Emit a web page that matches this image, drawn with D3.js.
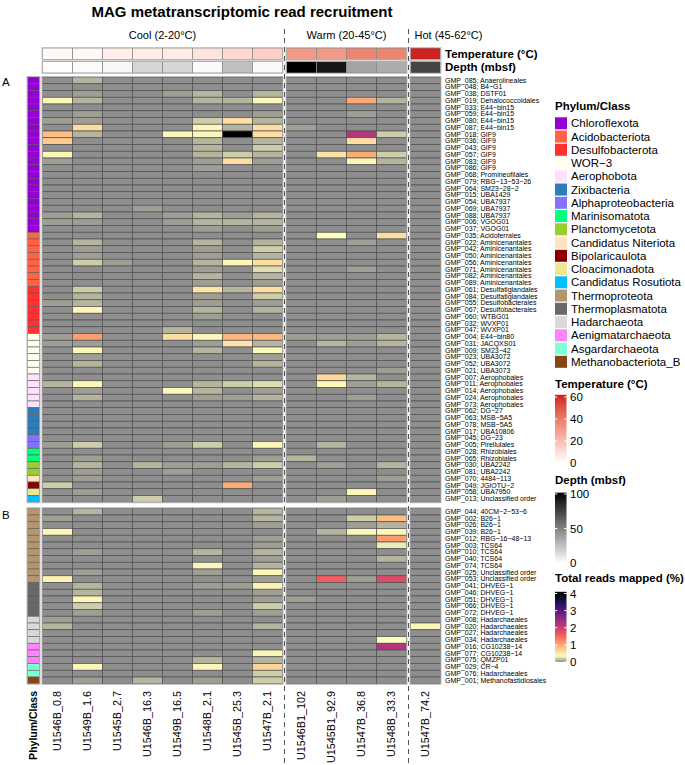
<!DOCTYPE html>
<html><head><meta charset="utf-8">
<script src="https://cdn.jsdelivr.net/npm/d3@7"></script>
<style>body{margin:0;background:#fff} text{font-family:"Liberation Sans",Arial,Helvetica,sans-serif;fill:#000}</style>
</head><body><svg id="c" width="685" height="765"></svg>
<script>
// ---------------- DATA ----------------
const groups = ["Cool (2-20°C)", "Warm (20-45°C)", "Hot (45-62°C)"];
const samples = ["U1546B_0.8","U1549B_1.6","U1545B_2.7","U1546B_16.3","U1549B_16.5","U1548B_2.1","U1545B_25.3","U1547B_2.1",
                 "U1546B1_102","U1545B1_92.9","U1547B_36.8","U1548B_33.3","U1547B_74.2"];
const sampleGroup = [0,0,0,0,0,0,0,0,1,1,1,1,2];
const temperature = [2,2.5,5,6,6,8.5,11.5,14.5,31,31,37,37,61];
const depth = [0.8,1.6,2.7,16.3,16.5,2.1,25.3,2.1,102,92.9,36.8,33.3,74.2];

const phyla = ["Chloroflexota","Acidobacteriota","Desulfobacterota","WOR\u22123","Aerophobota","Zixibacteria",
  "Alphaproteobacteria","Marinisomatota","Planctomycetota","Candidatus Niteriota","Bipolaricaulota",
  "Cloacimonadota","Candidatus Rosutiota","Thermoproteota","Thermoplasmatota","Hadarchaeota",
  "Aenigmatarchaeota","Asgardarchaeota","Methanobacteriota_B"];
const phylaColors = ["#9400D3","#FF6347","#FF3030","#FFFFF0","#FFE1FF","#2C7DB8","#8470FF","#00FF7F","#9ACD32",
  "#FFE4C4","#8B0000","#F0E68C","#00BFFF","#B5956E","#696969","#D9D9D9","#FF83FA","#7FFFD4","#8B4513"];

const rowsA = ["GMP_085; Anaerolineales","GMP_048; B4\u2212G1","GMP_038; DSTF01","GMP_019; Dehalococcoidales",
 "GMP_033; E44\u2212bin15","GMP_059; E44\u2212bin15","GMP_080; E44\u2212bin15","GMP_087; E44\u2212bin15",
 "GMP_018; GIF9","GMP_036; GIF9","GMP_043; GIF9","GMP_057; GIF9","GMP_083; GIF9","GMP_086; GIF9",
 "GMP_068; Promineofilales","GMP_079; RBG\u221213\u221253\u221226","GMP_064; SM23\u221228\u22122","GMP_015; UBA1429",
 "GMP_054; UBA7937","GMP_069; UBA7937","GMP_088; UBA7937","GMP_006; VGOG01","GMP_037; VGOG01",
 "GMP_035; Acidoferrales","GMP_022; Aminicenantales","GMP_042; Aminicenantales","GMP_050; Aminicenantales",
 "GMP_056; Aminicenantales","GMP_071; Aminicenantales","GMP_082; Aminicenantales","GMP_089; Aminicenantales",
 "GMP_061; Desulfatiglandales","GMP_084; Desulfatiglandales","GMP_055; Desulfobacterales","GMP_067; Desulfobacterales",
 "GMP_060; WTBG01","GMP_032; WVXP01","GMP_047; WVXP01","GMP_004; E44\u2212bin80","GMP_031; JACQXS01",
 "GMP_009; SM23\u221242","GMP_023; UBA3072","GMP_052; UBA3072","GMP_021; UBA3073","GMP_007; Aerophobales",
 "GMP_011; Aerophobales","GMP_014; Aerophobales","GMP_024; Aerophobales","GMP_073; Aerophobales",
 "GMP_062; DG\u221227","GMP_063; MSB\u22125A5","GMP_078; MSB\u22125A5","GMP_017; UBA10806","GMP_045; DG\u221223",
 "GMP_005; Pirellulales","GMP_028; Rhizobiales","GMP_065; Rhizobiales","GMP_030; UBA2242","GMP_081; UBA2242",
 "GMP_070; 4484\u2212113","GMP_049; JGIOTU\u22122","GMP_058; UBA7950","GMP_013; Unclassified order"];
const phylumA = [0,0,0,0,0,0,0,0,0,0,0,0,0,0,0,0,0,0,0,0,0,0,0, 1,1,1,1,1,1,1,1, 2,2,2,2,2,2,2,
  3,3,3,3,3,3, 4,4,4,4,4, 5,5,5,5, 6,6, 7,7, 8,8, 9, 10, 11, 12];
const valuesA = [
 [0,0.12,0,0,0,0,0,0, 0,0,0,0, 0],
 [0,0,0,0,0,0,0,0, 0,0,0,0, 0],
 [0,0.05,0,0,0.05,0.12,0,0.12, 0,0,0,0, 0],
 [0.4,0.12,0,0,0,0.12,0.12,0.4, 0,0,1.0,0.12, 0],
 [0,0,0,0,0,0,0,0, 0,0,0,0, 0],
 [0,0.05,0,0,0,0,0,0.05, 0,0,0.05,0, 0],
 [0.05,0.05,0,0,0,0.2,0.6,0.12, 0,0,0,0, 0],
 [0,0.6,0,0,0,0.4,0.12,0.6, 0.05,0,0,0, 0],
 [0.85,0.12,0,0,0.4,0.4,4,0.6, 0,0,2.2,0.2, 0],
 [0.75,0,0,0,0,0.12,0,0.12, 0,0,0.6,0, 0],
 [0,0,0,0,0,0.12,0,0.2, 0,0,0,0, 0],
 [0.4,0,0,0,0,0.12,0.2,0.12, 0,0.55,1.0,0.2, 0],
 [0.05,0,0,0,0,0.05,0.6,0.05, 0,0,0.4,0.12, 0],
 [0,0,0,0,0,0.05,0,0, 0,0,0,0, 0],
 [0,0,0,0,0,0,0,0, 0,0,0,0, 0],
 [0,0,0,0,0,0,0,0, 0,0,0,0, 0],
 [0,0,0,0,0,0,0,0, 0,0,0,0, 0],
 [0,0,0,0,0,0,0,0, 0,0,0,0, 0],
 [0,0,0,0,0,0,0,0, 0,0,0,0, 0],
 [0,0,0,0.05,0,0,0,0, 0,0,0,0, 0],
 [0.05,0.12,0,0,0.05,0.12,0.05,0.12, 0,0,0,0, 0],
 [0.05,0.05,0,0,0.05,0.12,0.12,0.12, 0,0,0,0, 0],
 [0,0,0,0,0,0.05,0,0.05, 0,0,0,0, 0],
 [0,0,0,0,0,0,0,0, 0,0.35,0,0.6, 0],
 [0,0.12,0,0,0,0.12,0,0.12, 0,0,0.05,0, 0],
 [0,0.05,0,0,0,0.05,0,0.2, 0,0,0,0, 0],
 [0,0.05,0,0,0,0.05,0,0.12, 0,0,0,0, 0],
 [0,0.2,0.05,0,0,0.12,0.4,0.6, 0,0,0,0, 0],
 [0,0,0,0,0,0.05,0,0.25, 0,0,0.05,0, 0],
 [0,0,0,0,0,0.12,0,0.12, 0,0,0,0, 0],
 [0,0,0,0,0,0.05,0,0.05, 0,0,0,0, 0],
 [0,0.2,0,0,0,0.55,0.12,0.6, 0,0,0,0, 0],
 [0,0.12,0,0,0,0.05,0,0.2, 0,0,0,0, 0],
 [0.05,0.12,0,0,0,0.05,0,0.05, 0,0,0,0, 0],
 [0,0.4,0,0,0,0.12,0,0.12, 0,0,0,0, 0],
 [0,0,0,0,0,0.05,0,0, 0,0,0,0, 0],
 [0,0,0,0,0,0,0,0, 0,0,0,0, 0],
 [0,0,0,0,0.12,0,0,0, 0,0,0,0, 0],
 [0.05,1.1,0,0,0.6,0.4,0.9,0.9, 0.05,0.05,0.05,0.12, 0],
 [0.05,0.05,0,0,0,0.05,0.55,0.12, 0,0.12,0.05,0.12, 0],
 [0,0.4,0,0,0,0.12,0,0.4, 0,0,0,0, 0],
 [0,0.05,0,0,0,0,0,0.05, 0,0,0,0, 0],
 [0,0.12,0,0,0,0,0,0.12, 0,0,0,0, 0],
 [0,0,0,0,0,0,0,0, 0,0,0,0.05, 0],
 [0,0,0,0,0,0,0,0, 0,0.65,0.12,0, 0],
 [0.12,0.4,0,0,0,0.12,0.2,0.25, 0,0.4,0.05,0.12, 0],
 [0,0.05,0,0,0.4,0.12,0,0.05, 0,0,0,0, 0],
 [0,0.12,0,0,0,0.05,0.05,0.12, 0,0,0.05,0, 0],
 [0,0,0,0,0,0,0,0, 0,0,0,0, 0],
 [0,0,0,0,0,0,0,0, 0,0,0,0, 0],
 [0,0,0,0,0,0,0,0, 0,0,0,0, 0],
 [0,0,0,0,0,0,0,0, 0,0,0,0, 0],
 [0,0,0,0,0,0,0,0, 0,0,0,0, 0],
 [0,0,0,0,0,0,0,0, 0,0,0,0, 0],
 [0.05,0.2,0,0,0.05,0.2,0,0.4, 0,0.12,0,0, 0],
 [0,0,0,0,0,0,0,0, 0,0,0,0, 0],
 [0,0.05,0,0,0,0,0,0.05, 0.12,0,0,0, 0],
 [0,0.12,0,0.12,0.05,0.05,0.12,0.2, 0,0.05,0,0.12, 0],
 [0,0.05,0,0,0.05,0,0,0, 0,0,0,0, 0],
 [0,0.05,0,0,0,0,0,0.05, 0,0,0,0.05, 0],
 [0.2,0,0,0,0,0,1.0,0, 0,0,0,0, 0],
 [0,0.05,0,0,0,0,0,0, 0,0,0.4,0, 0],
 [0,0,0,0.2,0,0,0,0, 0,0.05,0,0, 0]
];

const rowsB = ["GMP_044; 40CM\u22122\u221253\u22126","GMP_002; B26\u22121","GMP_026; B26\u22121","GMP_039; B26\u22121",
 "GMP_012; RBG\u221216\u221248\u221213","GMP_003; TCS64","GMP_010; TCS64","GMP_040; TCS64","GMP_074; TCS64",
 "GMP_025; Unclassified order","GMP_053; Unclassified order","GMP_041; DHVEG\u22121","GMP_046; DHVEG\u22121",
 "GMP_051; DHVEG\u22121","GMP_066; DHVEG\u22121","GMP_072; DHVEG\u22121","GMP_008; Hadarchaeales",
 "GMP_020; Hadarchaeales","GMP_027; Hadarchaeales","GMP_034; Hadarchaeales","GMP_016; CG10238\u221214",
 "GMP_077; CG10238\u221214","GMP_075; QMZP01","GMP_029; CR\u22124","GMP_076; Hadarchaeales","GMP_001; Methanofastidiosales"];
const phylumB = [13,13,13,13,13,13,13,13,13,13,13, 14,14,14,14,14, 15,15,15,15, 16,16,16, 17,17, 18];
const valuesB = [
 [0,0.12,0,0,0,0,0,0.12, 0,0,0,0, 0],
 [0.05,0,0,0,0,0,0,0.12, 0,0,0.2,0.85, 0],
 [0,0,0,0,0,0,0,0.05, 0,0,0.05,0.12, 0],
 [0.4,0,0,0,0,0,0,0, 0,0.12,0.4,0.4, 0],
 [0,0,0,0,0,0,0,0.05, 0,0,0,1.1, 0],
 [0,0,0,0,0,0,0,0.05, 0,0,0,0.3, 0],
 [0,0.05,0,0,0,0.12,0,0.12, 0,0,0,0, 0],
 [0,0,0,0,0,0,0,0.05, 0,0,0,0.12, 0],
 [0,0,0,0,0,0.4,0,0.12, 0,0,0,0, 0],
 [0,0.05,0,0,0,0.05,0,0.4, 0,0,0,0, 0],
 [0.45,0,0,0,0,0,0,0.05, 0,1.6,0.05,1.8, 0],
 [0,0.12,0,0,0,0.05,0.05,0.45, 0,0,0,0, 0],
 [0,0.12,0,0,0,0,0,0.05, 0,0,0,0, 0],
 [0,0.4,0,0,0,0,0,0.05, 0.05,0,0,0, 0],
 [0,0.2,0,0,0,0,0,0.2, 0,0,0,0, 0],
 [0,0.05,0,0,0,0.05,0,0.05, 0,0,0,0, 0],
 [0.05,0,0,0,0,0,0,0, 0,0,0,0, 0],
 [0.12,0,0,0,0,0,0,0.12, 0,0,0,0, 0.4],
 [0,0,0,0,0,0,0,0, 0,0,0,0, 0],
 [0,0,0,0,0,0,0,0, 0,0,0,0.35, 0],
 [0,0,0,0,0,0,0,0, 0,0,0,2.2, 0],
 [0,0,0,0,0,0,0,0.4, 0,0,0,0, 0],
 [0,0,0,0,0,0.12,0,0.12, 0,0,0,0, 0],
 [0,0.4,0,0,0,0.4,0,0.7, 0,0,0,0, 0],
 [0,0,0,0,0,0,0,0.2, 0,0,0,0, 0],
 [0,0.05,0,0.12,0,0.05,0,0.2, 0,0,0,0, 0]
];
const tempTicks = [0,20,40,60];
const depthTicks = [0,50,100];
const readTicks = [0,1,2,3,4];

// ---------------- SCALES ----------------
const svg = d3.select("#c");
const FONT = '"Liberation Sans",Arial,Helvetica,sans-serif';
const groupRanges = [[42.5,282.5],[286.5,406.5],[410.5,440.5]];
const xScales = groups.map((g,gi)=> d3.scaleBand()
  .domain(samples.filter((s,i)=>sampleGroup[i]===gi)).range(groupRanges[gi]).padding(0));
const xOf = s => xScales[sampleGroup[samples.indexOf(s)]](s);
const bw = xScales[0].bandwidth();

const GRAY = "#8e8e8e";
const tempColor = d3.scaleLinear().domain([0,62]).range(["#ffffff","#cb1a1e"]).interpolate(d3.interpolateLab).clamp(true);
const depthColor = d3.scaleLinear().domain([0,102]).range(["#ffffff","#000000"]).clamp(true);
const yellowStart = 0.35, readMax = 4;
const grayToYellow = d3.scaleLinear().domain([0,yellowStart]).range([GRAY,"#fcfdbf"]);
const magmaPart = d3.scaleSequential(t=>d3.interpolateMagma(1-t)).domain([yellowStart, readMax]).clamp(true);
const readColor = v => v<=0 ? GRAY : (v<yellowStart ? grayToYellow(v) : magmaPart(v));

const yA = d3.scaleBand().domain(rowsA).range([77, 502.25]);
const yB = d3.scaleBand().domain(rowsB).range([508.25, 683.75]);

// ---------------- TITLE & HEADERS ----------------
svg.append("text").attr("x",242).attr("y",16.5).attr("text-anchor","middle")
  .attr("font-size",15).attr("font-weight","bold").text("MAG metatranscriptomic read recruitment");

groups.forEach((g,gi)=>{
  const r = groupRanges[gi];
  const t = svg.append("text").attr("y",39).attr("font-size",11).text(g);
  if(gi<2) t.attr("x",(r[0]+r[1])/2).attr("text-anchor","middle");
  else t.attr("x",r[0]+4).attr("text-anchor","start");
});

const headerRows = [
  {label:"Temperature (°C)", y0:48, y1:59.5, color:(i)=>tempColor(temperature[i])},
  {label:"Depth (mbsf)", y0:61.5, y1:73, color:(i)=>depthColor(depth[i])}
];
headerRows.forEach(h=>{
  svg.append("g").selectAll("rect").data(samples).join("rect")
    .attr("x",d=>xOf(d)).attr("y",h.y0).attr("width",bw).attr("height",h.y1-h.y0)
    .attr("fill",(d,i)=>h.color(i)).attr("stroke","#8a8a8a").attr("stroke-width",0.8);
  groupRanges.forEach(r=>{
    svg.append("rect").attr("x",r[0]-0.5).attr("y",h.y0-0.5).attr("width",r[1]-r[0]+1).attr("height",h.y1-h.y0+1)
      .attr("fill","none").attr("stroke","#c4c4c4").attr("stroke-width",1);
  });
  svg.append("text").attr("x",445).attr("y",(h.y0+h.y1)/2).attr("dy","0.36em")
    .attr("font-size",11.5).attr("font-weight","bold").text(h.label);
});

// ---------------- PANELS ----------------
function drawPanel(rows, phyl, vals, y){
  const g = svg.append("g");
  rows.forEach((r,ri)=>{
    g.append("g").selectAll("rect").data(samples).join("rect")
      .attr("x",d=>xOf(d)).attr("y",y(r)).attr("width",bw).attr("height",y.bandwidth())
      .attr("fill",(d,i)=>readColor(vals[ri][i])).attr("stroke","#4f4f4f").attr("stroke-width",0.7);
  });
  const y0 = y.range()[0], y1 = y.range()[1];
  groupRanges.forEach(rg=>{
    g.append("rect").attr("x",rg[0]-0.5).attr("y",y0-0.5).attr("width",rg[1]-rg[0]+1).attr("height",y1-y0+1)
      .attr("fill","none").attr("stroke","#bdbdbd").attr("stroke-width",1);
  });
  // phylum strip
  g.append("g").selectAll("rect").data(rows).join("rect")
    .attr("x",27.5).attr("y",d=>y(d)).attr("width",12).attr("height",y.bandwidth())
    .attr("fill",(d,i)=>phylaColors[phyl[i]]).attr("stroke","#5a5a5a").attr("stroke-width",0.6);
  g.append("rect").attr("x",27).attr("y",y0-0.5).attr("width",13).attr("height",y1-y0+1)
    .attr("fill","none").attr("stroke","#bdbdbd").attr("stroke-width",1);
  // row labels via axis
  const ax = g.append("g").attr("transform","translate(442,0)")
    .call(d3.axisRight(y).tickSize(0).tickPadding(3));
  ax.select(".domain").remove();
  ax.selectAll("text").attr("font-size",7).attr("font-family",FONT).attr("fill","#111");
}
drawPanel(rowsA, phylumA, valuesA, yA);
drawPanel(rowsB, phylumB, valuesB, yB);

svg.append("text").attr("x",2).attr("y",86).attr("font-size",11.5).text("A");
svg.append("text").attr("x",2).attr("y",519).attr("font-size",11.5).text("B");

// dashed group separators
[284.5, 408.5].forEach(x=>{
  svg.append("line").attr("x1",x).attr("x2",x).attr("y1",29).attr("y2",765)
    .attr("stroke","#555").attr("stroke-width",1).attr("stroke-dasharray","5,4");
});

// column labels
svg.append("g").selectAll("text").data(samples).join("text")
  .attr("transform",d=>`translate(${xOf(d)+bw/2},691) rotate(-90)`)
  .attr("text-anchor","end").attr("dy","0.36em").attr("font-size",10.8).text(d=>d);
svg.append("text").attr("transform","translate(33.5,691) rotate(-90)")
  .attr("text-anchor","end").attr("dy","0.36em").attr("font-size",10.5).attr("font-weight","bold").text("Phylum/Class");

// ---------------- LEGENDS ----------------
const LX = 555;
svg.append("text").attr("x",LX).attr("y",110).attr("font-size",11.5).attr("font-weight","bold").text("Phylum/Class");
const lg = svg.append("g").selectAll("g").data(phyla).join("g")
  .attr("transform",(d,i)=>`translate(${LX},${117.3+13.25*i})`);
lg.append("rect").attr("width",12).attr("height",12).attr("fill",(d,i)=>phylaColors[i]);
lg.append("text").attr("x",16).attr("y",6).attr("dy","0.36em").attr("font-size",11.5).text(d=>d);

const defs = svg.append("defs");
function colorbar(id, title, titleY, scaleY, ticks, colorFn, domainMax){
  svg.append("text").attr("x",LX).attr("y",titleY).attr("font-size",11.5).attr("font-weight","bold").text(title);
  const grad = defs.append("linearGradient").attr("id",id).attr("x1",0).attr("y1",1).attr("x2",0).attr("y2",0);
  d3.range(0,1.0001,0.02).forEach(t=>{
    grad.append("stop").attr("offset",t).attr("stop-color",colorFn(t*domainMax));
  });
  const top = scaleY(domainMax), bot = scaleY(0);
  svg.append("rect").attr("x",LX).attr("y",top).attr("width",11.5).attr("height",bot-top).attr("fill",`url(#${id})`);
  const tg = svg.append("g");
  ticks.forEach(v=>{
    const yy = scaleY(v);
    tg.append("line").attr("x1",LX).attr("x2",LX+2.3).attr("y1",yy).attr("y2",yy).attr("stroke","#fff").attr("stroke-width",1);
    tg.append("line").attr("x1",LX+9.2).attr("x2",LX+11.5).attr("y1",yy).attr("y2",yy).attr("stroke","#fff").attr("stroke-width",1);
    tg.append("text").attr("x",LX+15).attr("y",yy).attr("dy","0.36em").attr("font-size",11.5).text(v);
  });
}
colorbar("gT","Temperature (°C)",388, d3.scaleLinear().domain([0,60]).range([463,397]), tempTicks, tempColor, 62);
colorbar("gD","Depth (mbsf)",484, d3.scaleLinear().domain([0,100]).range([563,494]), depthTicks, depthColor, 102);
colorbar("gR","Total reads mapped (%)",582, d3.scaleLinear().domain([0,4]).range([662,593.5]), readTicks, readColor, 4.1);
</script>
</body></html>
